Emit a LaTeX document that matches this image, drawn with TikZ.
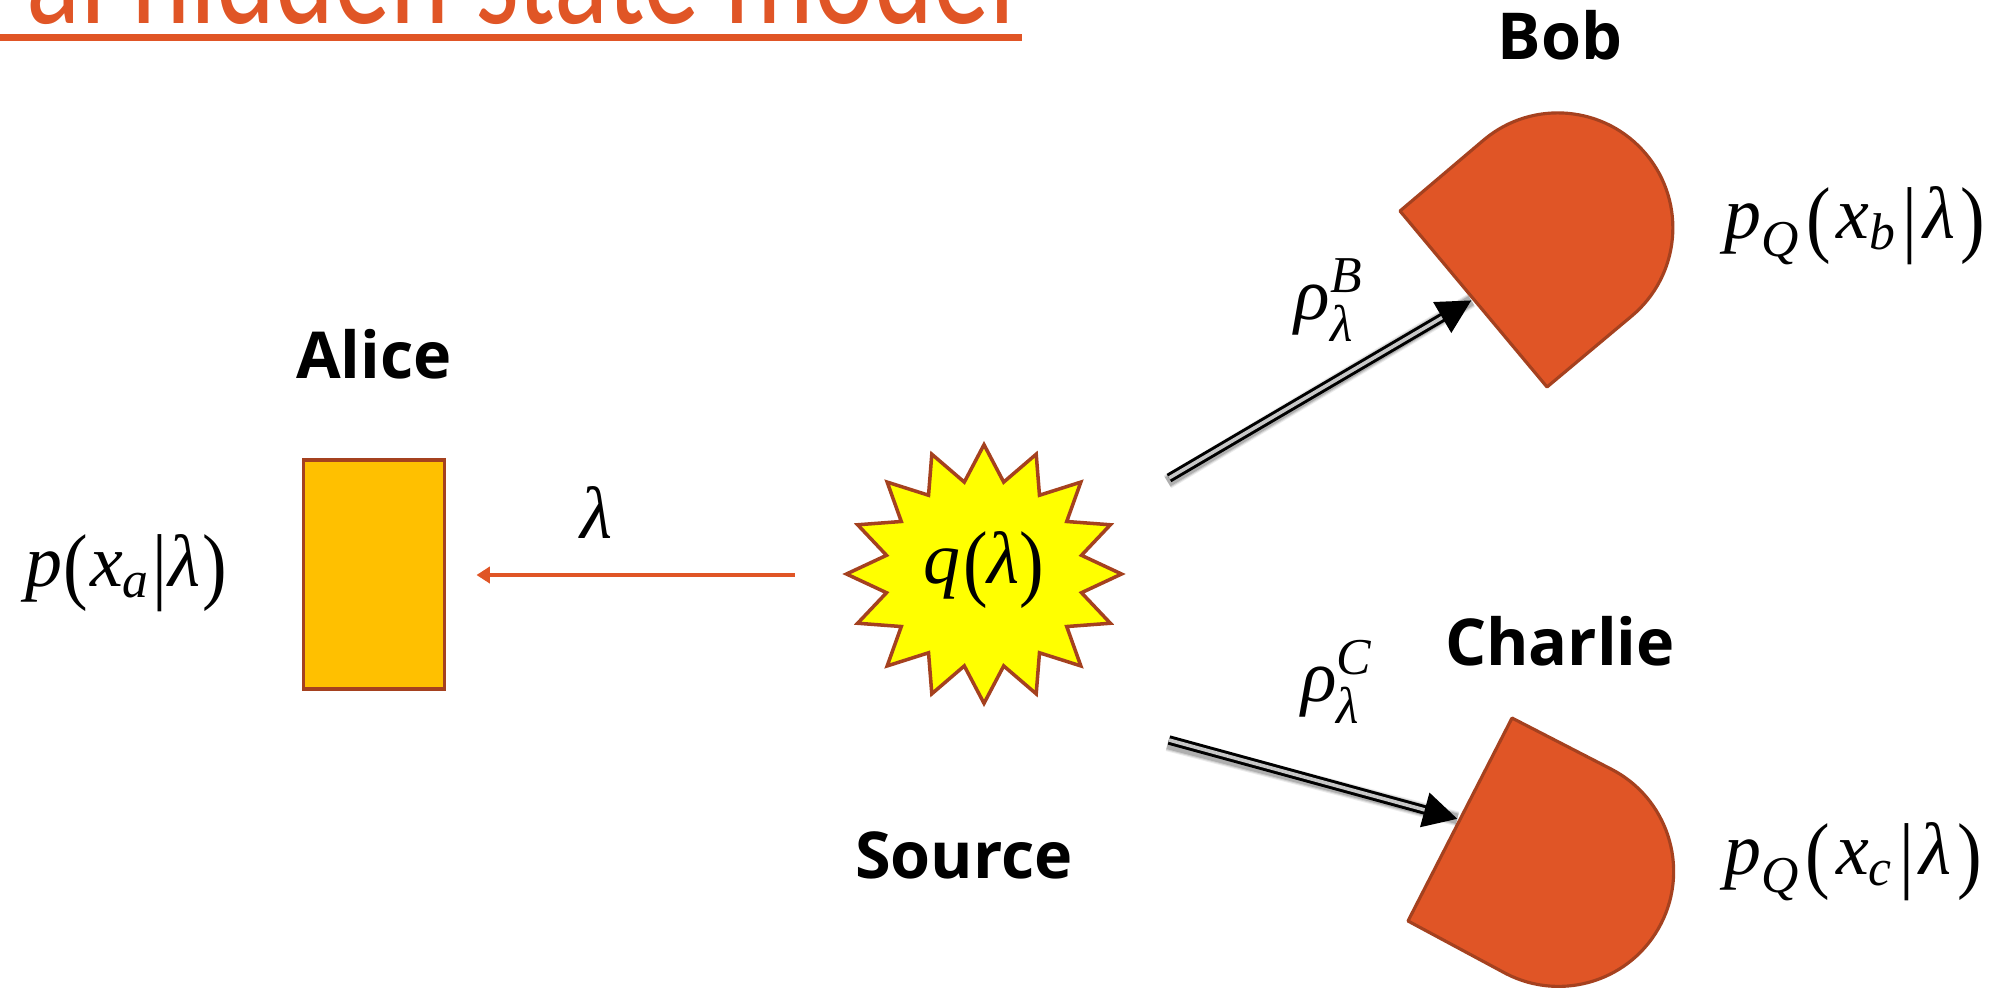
\documentclass[tikz,border=0pt]{standalone}
\usepackage{amsmath}
\usepackage{graphicx}
\usepackage{fontspec}
\setmainfont{Liberation Serif}
\newfontfamily\labelfont{Open Sans}
\newfontfamily\titlefont{Carlito}
\usetikzlibrary{arrows.meta}
\definecolor{edgebrown}{HTML}{A5411F}
\definecolor{detorange}{HTML}{E05526}
\definecolor{boxamber}{HTML}{FFC000}
\definecolor{staryellow}{HTML}{FFFF00}
\newcommand{\mi}[1]{\text{\itshape #1}}
\newcommand{\gapsize}{1.4mu}
\newcommand{\tallpar}[1]{\text{\raisebox{-0.1em}{\scalebox{1}[1.15]{#1}}}}
\newcommand{\lpr}{\mkern\gapsize\tallpar{(}\mkern\gapsize}
\newcommand{\rpr}{\mkern\gapsize\tallpar{)}}
\newcommand{\brr}{\mkern\gapsize\tallpar{|}\mkern\gapsize}
\tikzset{
  partylabel/.style={font=\labelfont\bfseries\fontsize{18.4}{22}\selectfont,text=black,inner sep=0pt},
  mathlabel/.style={font=\fontsize{21}{25}\selectfont,text=black,inner sep=0pt},
  device/.style={draw=edgebrown,line width=0.9pt,fill=detorange,line join=round},
  quantum/.style={line width=0.85pt,double=black!22,double distance=1pt,black,
    -{Triangle[length=9.6pt,width=10pt,black,fill=black]}},
  softshadow/.style={black,opacity=#1},
  classical/.style={detorange,line width=1.05pt,-{Triangle[length=3.8pt,width=4.6pt]}}
}
\begin{document}
\begin{tikzpicture}[x=0.01cm,y=-0.01cm]
\path[use as bounding box] (0,0) rectangle (2003,987);
\clip (0,0) rectangle (2003,987);
% title
\node[anchor=base east,inner sep=0pt,text=detorange,font=\titlefont\fontsize{32}{38}\selectfont] (title) at (1016,23) {\scalebox{1}[1.35]{al hidden state model}};
\fill[detorange] (0,34) rectangle (1022,41);
% Alice
\node[draw=edgebrown,line width=1pt,fill=boxamber,minimum width=40.1pt,minimum height=65.1pt,inner sep=0pt,anchor=center] (alice) at (374,574.5) {};
\node[partylabel] (alicelabel) at (374,354) {Alice};
\node[mathlabel] (pa) at (126,573) {\renewcommand{\gapsize}{0.4mu}$\mi{p}\lpr\mi{x}_{\mi{a}}\brr\mi{λ}\rpr$};
% Source star
\begin{scope}[shift={(984,574)},x=0.00328cm,y=-0.00328cm]
\draw[draw=edgebrown,line width=1pt,fill=staryellow,line join=miter]
 (0,-394) -- (60,-280) -- (159,-365) -- (169,-240) -- (295,-280) -- (252,-160) -- (385,-150) -- (297,-57)
 -- (419,0) -- (297,57) -- (385,150) -- (252,160) -- (295,280) -- (169,240) -- (159,365) -- (60,280)
 -- (0,394) -- (-60,280) -- (-159,365) -- (-169,240) -- (-295,280) -- (-252,160) -- (-385,150) -- (-297,57)
 -- (-419,0) -- (-297,-57) -- (-385,-150) -- (-252,-160) -- (-295,-280) -- (-169,-240) -- (-159,-365) -- (-60,-280) -- cycle;
\end{scope}
\node[mathlabel] (source) at (984,570) {$\mi{q}\mkern0.6mu\tallpar{(}\mi{λ}\tallpar{)}$};
\node[partylabel] (sourcelabel) at (964,855) {Source};
% classical arrow
\coordinate (lamstart) at (794.5,575);
\coordinate (lamend) at (476.5,575);
\draw[classical] (lamstart) -- (lamend);
\node[mathlabel] (lam) at (596,512) {$\mi{λ}$};
% Bob detector
\draw[device] (1400,211) -- (1484.4,139.4) arc[start angle=-129.7,end angle=50.3,radius=115] -- (1547,387) -- cycle;
\node[inner sep=0pt,minimum size=0pt] (bob) at (1472,300) {};
\node[partylabel] (boblabel) at (1560,35) {Bob};
\node[mathlabel] (pb) at (1855,226) {$\mi{p}_{\mi{Q}}\lpr\mi{x}_{\mi{b}}\brr\mi{λ}\rpr$};
% Charlie detector
\draw[device] (1512,718) -- (1611,769) arc[start angle=-62.9,end angle=117.1,radius=115] -- (1408,921) -- cycle;
\node[inner sep=0pt,minimum size=0pt] (charlie) at (1458,819) {};
\node[partylabel] (charlielabel) at (1560,641) {Charlie};
\node[mathlabel] (pc) at (1853,862) {$\mi{p}_{\mi{Q}}\lpr\mi{x}_{\mi{c}}\brr\mi{λ}\rpr$};
% quantum arrows
\coordinate (qb) at (1169,478);
\coordinate (qc) at (1169,740);
\foreach \w/\o in {4.2/0.08,3.6/0.11,3.0/0.16}{
  \draw[softshadow=\o,line width=\w pt] ([yshift=-1.1pt,xshift=-0.4pt]qb) -- ([yshift=-1.1pt,xshift=-4pt]bob);
  \draw[softshadow=\o,line width=\w pt] ([yshift=-1.1pt,xshift=-0.4pt]qc) -- ([yshift=-1.1pt,xshift=-4pt]charlie);
}
\draw[quantum] (qb) -- (bob);
\draw[quantum] (qc) -- (charlie);
\node[mathlabel] (rhob) at (1329,300) {$\mi{ρ}_{\mi{λ}}^{\mi{B}}$};
\node[mathlabel] (rhoc) at (1337,682) {$\mi{ρ}_{\mi{λ}}^{\mi{C}}$};
\end{tikzpicture}
\end{document}
